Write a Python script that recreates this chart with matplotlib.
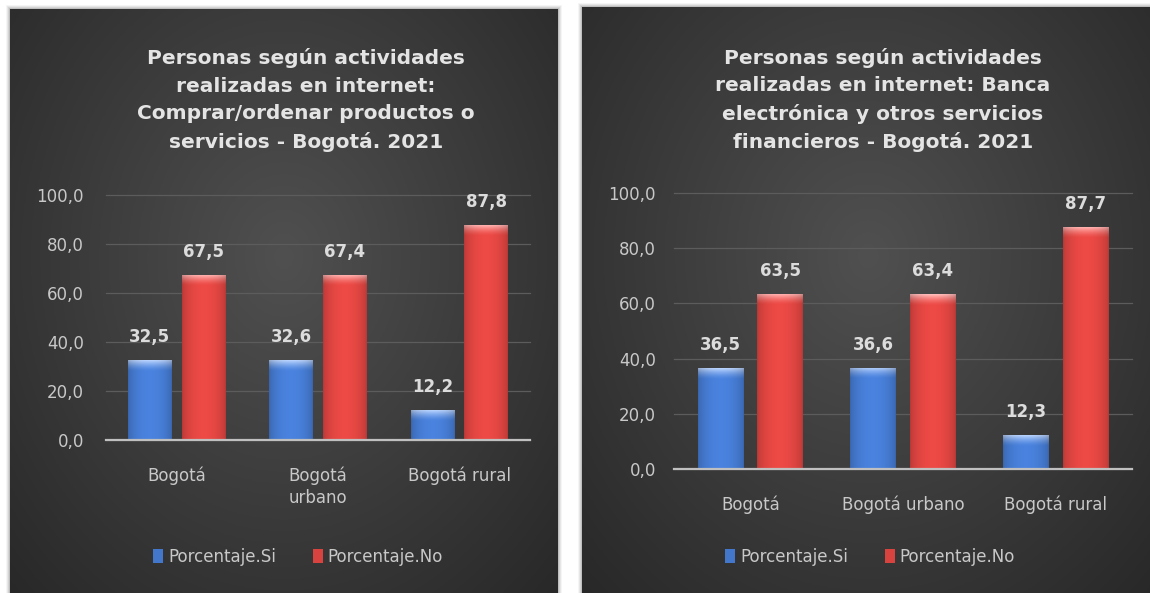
import numpy as np
import matplotlib
matplotlib.use("Agg")
import matplotlib.pyplot as plt
from matplotlib.patches import Rectangle, Patch
from matplotlib.colors import to_rgb

# ---------------- data ----------------
categories_left = ["Bogotá", "Bogotá\nurbano", "Bogotá rural"]
categories_right = ["Bogotá", "Bogotá urbano", "Bogotá rural"]
series_names = ["Porcentaje.Si", "Porcentaje.No"]

compras_si = [32.5, 32.6, 12.2]
compras_no = [67.5, 67.4, 87.8]
banca_si = [36.5, 36.6, 12.3]
banca_no = [63.5, 63.4, 87.7]

title_left = "Personas según actividades\nrealizadas en internet:\nComprar/ordenar productos o\nservicios - Bogotá. 2021"
title_right = "Personas según actividades\nrealizadas en internet: Banca\nelectrónica y otros servicios\nfinancieros - Bogotá. 2021"
yticks = [0, 20, 40, 60, 80, 100]

BLUE = "#4377cb"
RED = "#d8433f"
TXT = "#dcdcdc"

W, H = 1150, 593
fig = plt.figure(figsize=(W / 100, H / 100), dpi=100)
fig.patch.set_facecolor("white")


def fx(px):
    return px / W


def fy(py):  # py measured from top
    return 1 - py / H


def panel(x0, y0, x1, y1):
    # shadow
    for i, a in enumerate([0.10, 0.08, 0.06, 0.04]):
        d = i + 1
        fig.patches.append(Rectangle((fx(x0 - d), fy(y1 + d)), fx(x1 - x0 + 2 * d), (y1 - y0 + 2 * d) / H,
                                     transform=fig.transFigure, facecolor="black", alpha=a,
                                     edgecolor="none", zorder=0))
    bg = fig.add_axes([fx(x0), fy(y1), fx(x1 - x0), (y1 - y0) / H], zorder=1)
    ny, nx = 200, 200
    yy, xx = np.mgrid[0:ny, 0:nx]
    u = (xx / (nx - 1) - 0.5) / 0.75
    v = (yy / (ny - 1) - 0.42) / 0.85
    r = np.clip(np.sqrt(u ** 2 + v ** 2), 0, 1)
    inner = np.array(to_rgb("#505050"))
    outer = np.array(to_rgb("#262626"))
    img = inner[None, None, :] * (1 - r[..., None]) + outer[None, None, :] * r[..., None]
    bg.imshow(img, extent=[0, 1, 0, 1], aspect="auto", origin="upper")
    bg.set_xlim(0, 1)
    bg.set_ylim(0, 1)
    bg.axis("off")
    return bg


def shade_bar(ax, patch, base, px_per_unit):
    x, y = patch.get_x(), patch.get_y()
    w, h = patch.get_width(), patch.get_height()
    c = np.array(to_rgb(base))
    n = 160
    m = 60
    xs = np.linspace(0, 1, m)
    hor = 0.85 + 0.25 * np.sin(np.pi * xs) ** 0.6
    img = np.ones((n, m, 3)) * c[None, None, :]
    img = img * hor[None, :, None]
    hl_units = 11 / px_per_unit
    frac = min(hl_units / h, 0.5) if h > 0 else 0
    rows = np.linspace(1, 0, n)  # top row = 1
    top = rows > 1 - frac
    t = np.zeros(n)
    t[top] = (rows[top] - (1 - frac)) / frac
    light = np.array([1.0, 1.0, 1.0])
    mix = 0.55 * t ** 1.5
    img = img * (1 - mix[:, None, None]) + light[None, None, :] * mix[:, None, None] * hor[None, :, None]
    img = np.clip(img, 0, 1)
    im = ax.imshow(img, extent=[x, x + w, y, y + h], aspect="auto", origin="upper", zorder=3,
                   interpolation="bilinear")
    im.set_clip_path(patch)


def chart(rect_px, cats, si, no, title, title_center, ypad, bar_w, offs):
    x0, ytop, x1, ybot = rect_px
    ax = fig.add_axes([fx(x0), fy(ybot), fx(x1 - x0), (ybot - ytop) / H], zorder=2)
    ax.set_facecolor("none")
    px_per_unit = (ybot - ytop) / 100
    x = np.arange(len(cats))
    b1 = ax.bar(x - offs, si, width=bar_w, color=BLUE, zorder=2, label=series_names[0])
    b2 = ax.bar(x + offs, no, width=bar_w, color=RED, zorder=2, label=series_names[1])
    for bars, col in [(b1, BLUE), (b2, RED)]:
        for p in bars:
            shade_bar(ax, p, col, px_per_unit)
            p.set_alpha(0)
        for p in bars:
            v = p.get_height()
            ax.annotate(f"{v:.1f}".replace(".", ","), (p.get_x() + p.get_width() / 2, v),
                        xytext=(0, 10), textcoords="offset points", ha="center", va="bottom",
                        color=TXT, fontsize=12, fontweight="bold", zorder=5)
    ax.set_xlim(-0.5, len(cats) - 0.5)
    ax.set_ylim(0, 100)
    ax.set_yticks(yticks)
    ax.set_yticklabels([f"{t:.1f}".replace(".", ",") for t in yticks], color="#c8c8c8", fontsize=12)
    ax.set_xticks(x)
    ax.set_xticklabels(cats, color="#c8c8c8", fontsize=12, linespacing=1.3)
    ax.tick_params(axis="both", length=0)
    ax.tick_params(axis="y", pad=ypad)
    ax.tick_params(axis="x", pad=19)
    ax.grid(axis="y", color="#5c5c5c", linewidth=0.9, zorder=0)
    for s in ["top", "right", "left"]:
        ax.spines[s].set_visible(False)
    ax.spines["bottom"].set_color("#c0c0c0")
    ax.spines["bottom"].set_linewidth(1.6)
    ax.spines["bottom"].set_zorder(4)
    for gl in ax.get_ygridlines():
        gl.set_clip_on(False)
    fig.text(fx(title_center), fy(100), title, ha="center", va="center", color="#e4e4e4",
             fontsize=14.5, fontweight="bold", linespacing=1.55, zorder=5)
    handles = [Patch(facecolor=BLUE, edgecolor="none"), Patch(facecolor=RED, edgecolor="none")]
    return ax, handles


panel(10, 9, 558, 600)
panel(582, 7, 1155, 600)

axl, h = chart((106, 195, 530, 440), categories_left, compras_si, compras_no, title_left, 306, 16, 0.31, 0.19)
fig.legend(h, series_names, loc="center", bbox_to_anchor=(fx(298), fy(557)), ncol=2, frameon=False,
           labelcolor="#c8c8c8", fontsize=12, handlelength=0.6, handleheight=0.9, handletextpad=0.3,
           columnspacing=2.2)

axr, h = chart((674, 193, 1132, 469), categories_right, banca_si, banca_no, title_right, 883, 13, 0.30, 0.195)
fig.legend(h, series_names, loc="center", bbox_to_anchor=(fx(870), fy(557)), ncol=2, frameon=False,
           labelcolor="#c8c8c8", fontsize=12, handlelength=0.6, handleheight=0.9, handletextpad=0.3,
           columnspacing=2.2)

fig.savefig("out.png", dpi=100, facecolor="white")
